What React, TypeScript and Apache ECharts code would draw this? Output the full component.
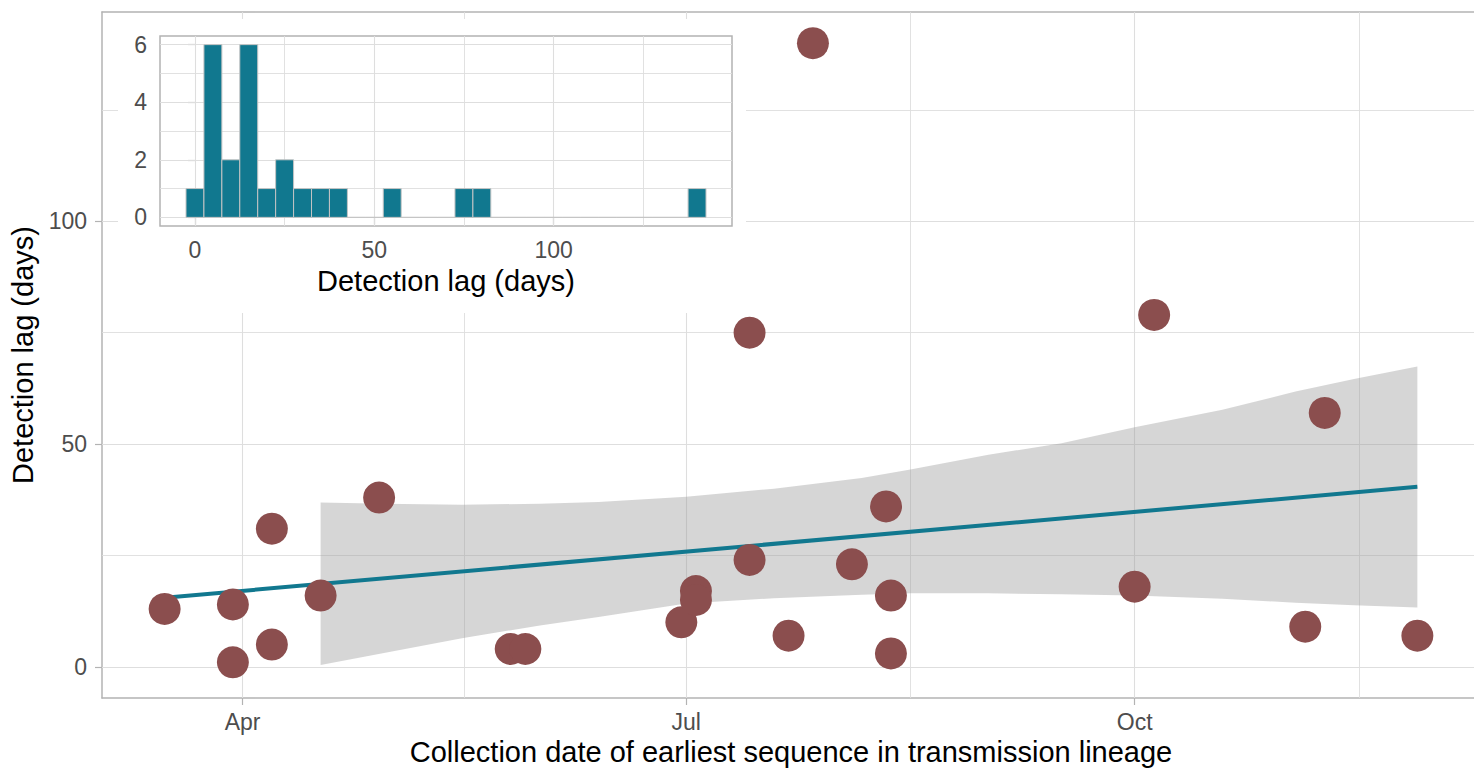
import React, { useEffect, useRef } from "react";
import * as echarts from "echarts";

// ---------- data ----------
const pointDates = [
  "2020-03-16", "2020-03-30", "2020-03-30", "2020-04-07", "2020-04-07",
  "2020-04-17", "2020-04-29", "2020-05-26", "2020-05-29", "2020-06-30",
  "2020-07-03", "2020-07-03", "2020-07-14", "2020-07-22", "2020-08-04",
  "2020-08-11", "2020-08-12", "2020-08-12", "2020-07-14", "2020-07-27",
  "2020-10-05", "2020-11-09", "2020-10-01", "2020-11-05", "2020-11-28",
];
const pointLags = [
  13, 14, 1, 31, 5,
  16, 38, 4, 4, 10,
  17, 15, 24, 7, 23,
  36, 16, 3, 75, 140,
  79, 57, 18, 9, 7,
];

const fitDates = ["2020-03-16", "2020-11-28"];
const fitLags = [15.5, 40.4];

const ribbonDates = [
  "2020-04-17", "2020-04-30", "2020-05-16", "2020-06-01", "2020-06-13",
  "2020-07-01", "2020-07-19", "2020-08-06", "2020-08-16", "2020-09-01",
  "2020-09-16", "2020-10-01", "2020-10-19", "2020-11-03", "2020-11-15",
  "2020-11-28",
];
const ribbonLower = [
  0.4, 3.1, 6.4, 9.3, 11.2,
  14.2, 15.4, 16.2, 16.5, 16.5,
  16.3, 16.0, 15.3, 14.4, 13.8,
  13.3,
];
const ribbonUpper = [
  36.9, 36.6, 36.4, 36.6, 37.0,
  38.2, 40.0, 42.4, 44.3, 47.6,
  50.2, 53.8, 57.7, 61.8, 64.6,
  67.4,
];

const xMajorBreaks = ["2020-04-01", "2020-07-01", "2020-10-01"];
const xMajorLabels = ["Apr", "Jul", "Oct"];
const xMinorBreaks = ["2020-05-16T12:00", "2020-08-16", "2020-11-16"];
const yMajorBreaks = [0, 50, 100];
const yMinorBreaks = [25, 75, 125];

const histBinCenters = [
  0, 5, 10, 15, 20, 25, 30, 35, 40, 45, 50, 55, 60, 65, 70,
  75, 80, 85, 90, 95, 100, 105, 110, 115, 120, 125, 130, 135, 140,
];
const histCounts = [
  1, 6, 2, 6, 1, 2, 1, 1, 1, 0, 0, 1, 0, 0, 0,
  1, 1, 0, 0, 0, 0, 0, 0, 0, 0, 0, 0, 0, 1,
];
const histBinWidth = 5;
const histXBreaks = [0, 50, 100];
const histXMinor = [25, 75, 125];
const histYBreaks = [0, 2, 4, 6];
const histYMinor = [1, 3, 5];

// ---------- styling ----------
const FONT = "'Liberation Sans', Arial, Helvetica, sans-serif";
const TEAL = "#11788F";
const POINT = "#8B4E4E";
const GRID = "#DEDEDE";
const BORDER = "#B3B3B3";
const AXIS_TEXT = "#4D4D4D";

const ts = (s: string) =>
  Date.parse(s.length === 10 ? s + "T00:00:00Z" : s + ":00Z");

export default function App() {
  const ref = useRef<HTMLDivElement>(null);

  useEffect(() => {
    if (!ref.current) return;
    const chart = echarts.init(ref.current, undefined, { renderer: "svg" });

    const xs = pointDates.map(ts);
    const xLo = Math.min(...xs);
    const xHi = Math.max(...xs);
    const xPad = 0.05 * (xHi - xLo);
    const yHi = Math.max(...pointLags);
    const yPad = 0.05 * yHi;

    const xMajorTs = xMajorBreaks.map(ts);
    const xMinorTs = xMinorBreaks.map(ts);

    const histRows = histBinCenters.map((c, i) => [
      c - histBinWidth / 2,
      c + histBinWidth / 2,
      histCounts[i],
    ]);
    const hLo = histRows[0][0];
    const hHi = histRows[histRows.length - 1][1];
    const hPad = 0.05 * (hHi - hLo);
    const cMax = Math.max(...histCounts);
    const cPad = 0.05 * cMax;

    const gl = (key: "xAxis" | "yAxis", v: number, w: number) => ({
      [key]: v,
      lineStyle: { color: GRID, width: w, type: "solid" },
    });

    const tickLabel = { color: AXIS_TEXT, fontSize: 23, fontFamily: FONT };
    const titleStyle = { color: "#000", fontSize: 29, fontFamily: FONT };
    const tickStyle = { color: BORDER, width: 1.2 };
    const borderLine = { show: true, onZero: false, lineStyle: { color: BORDER, width: 1.5 } };

    chart.setOption({
      animation: false,
      backgroundColor: "#fff",
      textStyle: { fontFamily: FONT },
      grid: [
        {
          left: 102, top: 12, width: 1378, height: 686,
          outerBoundsMode: "none", containLabel: false,
          show: false,
        },
        {
          left: 160, top: 36, width: 572, height: 190,
          outerBoundsMode: "none", containLabel: false,
          show: true, borderColor: BORDER, borderWidth: 1.5,
          backgroundColor: "transparent", z: 6,
        },
      ],
      graphic: {
        elements: [
          {
            type: "rect", z: 5, silent: true,
            shape: { x: 118, y: 19, width: 628, height: 294 },
            style: { fill: "#ffffff" },
          },
        ],
      },
      xAxis: [
        {
          type: "value", gridIndex: 0, position: "bottom",
          min: xLo - xPad, max: xHi + xPad,
          axisLine: borderLine, splitLine: { show: false },
          axisTick: { show: true, customValues: xMajorTs, length: 7, lineStyle: tickStyle },
          axisLabel: {
            ...tickLabel, margin: 12, customValues: xMajorTs,
            formatter: (v: number) => {
              const i = xMajorTs.findIndex((t) => Math.abs(t - v) < 1000);
              return i >= 0 ? xMajorLabels[i] : "";
            },
          },
          name: "Collection date of earliest sequence in transmission lineage",
          nameLocation: "middle", nameGap: 39, nameTextStyle: titleStyle,
        },
        {
          type: "value", gridIndex: 1, z: 6,
          min: hLo - hPad, max: hHi + hPad,
          axisLine: { show: false }, splitLine: { show: false },
          axisTick: { show: true, customValues: histXBreaks, length: 7, lineStyle: tickStyle },
          axisLabel: { ...tickLabel, margin: 12, customValues: histXBreaks },
          name: "Detection lag (days)",
          nameLocation: "middle", nameGap: 40, nameTextStyle: titleStyle,
        },
        {
          type: "value", gridIndex: 0, position: "top",
          min: xLo - xPad, max: xHi + xPad,
          axisLine: borderLine, splitLine: { show: false },
          axisTick: { show: false }, axisLabel: { show: false },
        },
      ],
      yAxis: [
        {
          type: "value", gridIndex: 0, position: "left",
          min: 0 - yPad, max: yHi + yPad,
          axisLine: borderLine, splitLine: { show: false },
          axisTick: { show: true, customValues: yMajorBreaks, length: 7, lineStyle: tickStyle },
          axisLabel: { ...tickLabel, margin: 15, customValues: yMajorBreaks },
          name: "Detection lag (days)",
          nameLocation: "middle", nameGap: 60, nameTextStyle: titleStyle,
        },
        {
          type: "value", gridIndex: 1, z: 6,
          min: 0 - cPad, max: cMax + cPad,
          axisLine: { show: false }, splitLine: { show: false },
          axisTick: { show: true, customValues: histYBreaks, length: 7, lineStyle: tickStyle },
          axisLabel: { ...tickLabel, margin: 13, customValues: histYBreaks },
        },
      ],
      series: [
        {
          type: "custom", name: "ribbon",
          xAxisIndex: 0, yAxisIndex: 0, z: 2, silent: true,
          data: [[ts(ribbonDates[0]), ribbonLower[0]]],
          encode: { x: 0, y: 1 },
          renderItem: (_params: any, api: any) => {
            const upper = ribbonDates.map((d, i) => api.coord([ts(d), ribbonUpper[i]]));
            const lower = ribbonDates
              .map((d, i) => api.coord([ts(d), ribbonLower[i]]))
              .reverse();
            return {
              type: "polygon",
              shape: { points: upper.concat(lower) },
              style: { fill: "rgba(153,153,153,0.4)" },
            };
          },
        },
        {
          type: "line", name: "fit",
          xAxisIndex: 0, yAxisIndex: 0, z: 3, silent: true,
          data: fitDates.map((d, i) => [ts(d), fitLags[i]]),
          symbol: "none", showSymbol: false,
          lineStyle: { color: TEAL, width: 4 },
          markLine: {
            z: 1, silent: true, symbol: ["none", "none"],
            label: { show: false },
            emphasis: { disabled: true },
            data: [
              ...xMajorTs.map((v) => gl("xAxis", v, 1.1)),
              ...xMinorTs.map((v) => gl("xAxis", v, 0.9)),
              ...yMajorBreaks.map((v) => gl("yAxis", v, 1.1)),
              ...yMinorBreaks.map((v) => gl("yAxis", v, 0.9)),
            ],
          },
        },
        {
          type: "scatter", name: "lineages",
          xAxisIndex: 0, yAxisIndex: 0, z: 4,
          data: pointDates.map((d, i) => [ts(d), pointLags[i]]),
          symbol: "circle", symbolSize: 32,
          itemStyle: { color: POINT, opacity: 1 },
        },
        {
          type: "custom", name: "histogram",
          xAxisIndex: 1, yAxisIndex: 1, z: 8, silent: true,
          data: histRows,
          encode: { x: [0, 1], y: 2 },
          renderItem: (_params: any, api: any) => {
            const p0 = api.coord([api.value(0), api.value(2)]);
            const p1 = api.coord([api.value(1), 0]);
            return {
              type: "rect",
              shape: { x: p0[0], y: p0[1], width: p1[0] - p0[0], height: p1[1] - p0[1] },
              style: { fill: TEAL, stroke: "#C4C4C4", lineWidth: 1 },
            };
          },
          markLine: {
            z: 7, silent: true, symbol: ["none", "none"],
            label: { show: false },
            emphasis: { disabled: true },
            data: [
              ...histXBreaks.map((v) => gl("xAxis", v, 1.1)),
              ...histXMinor.map((v) => gl("xAxis", v, 0.9)),
              ...histYBreaks.map((v) => gl("yAxis", v, 1.1)),
              ...histYMinor.map((v) => gl("yAxis", v, 0.9)),
            ],
          },
        },
      ],
    });

    return () => chart.dispose();
  }, []);

  return (
    <div
      ref={ref}
      style={{ position: "absolute", left: 0, top: 0, width: 1474, height: 769 }}
    />
  );
}
